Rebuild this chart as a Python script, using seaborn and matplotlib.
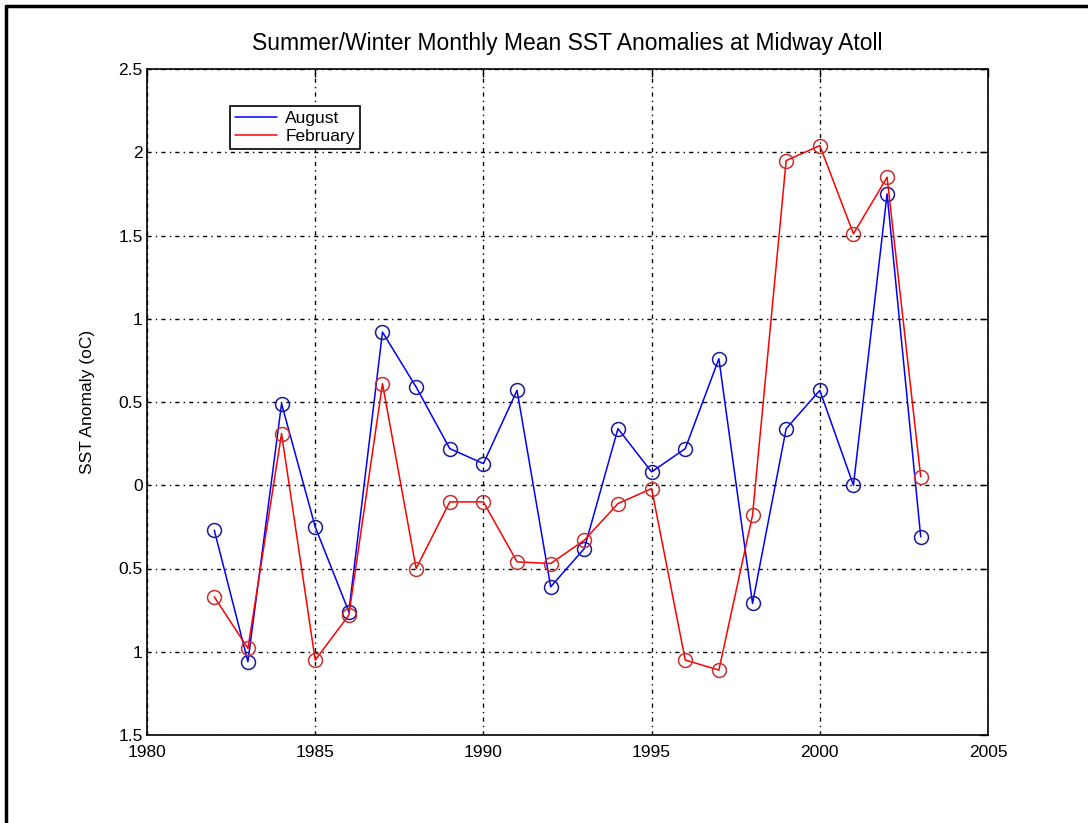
import matplotlib
matplotlib.use("Agg")
import matplotlib.pyplot as plt
from matplotlib.lines import Line2D
from matplotlib.ticker import FuncFormatter, MultipleLocator
import numpy as np
import pandas as pd
import seaborn as sns

# Monthly mean SST anomalies (degrees C), 1982-2003
years = list(range(1982, 2004))
august = [-0.27, -1.06, 0.49, -0.25, -0.76, 0.92, 0.59, 0.22, 0.13, 0.57, -0.61,
          -0.38, 0.34, 0.08, 0.22, 0.76, -0.71, 0.34, 0.57, 0.00, 1.75, -0.31]
february = [-0.67, -0.98, 0.31, -1.05, -0.78, 0.61, -0.50, -0.10, -0.10, -0.46, -0.47,
            -0.33, -0.11, -0.02, -1.05, -1.11, -0.18, 1.95, 2.04, 1.51, 1.85, 0.05]
series_names = ["August", "February"]
series_colors = {"August": "#0000ff", "February": "#ff0000"}
marker_colors = {"August": "#1a1a9a", "February": "#c83030"}

title = "Summer/Winter Monthly Mean SST Anomalies at Midway Atoll"
ylabel = "SST Anomaly (oC)"
xticks = [1980, 1985, 1990, 1995, 2000, 2005]

df = pd.DataFrame({
    "year": years * 2,
    "anomaly": august + february,
    "month": ["August"] * len(years) + ["February"] * len(years),
})

sns.set_style("white")
fam = ["Liberation Sans", "DejaVu Sans"]
plt.rcParams["font.family"] = fam
plt.rcParams["text.color"] = "black"
plt.rcParams["axes.labelcolor"] = "black"

fig = plt.figure(figsize=(10.88, 8.23), dpi=100)
ax = fig.add_axes([147 / 1088, 88 / 823, 841 / 1088, 666 / 823])

sns.lineplot(data=df, x="year", y="anomaly", hue="month", hue_order=series_names,
             palette=series_colors, marker="o", markersize=10, linewidth=1.1,
             markerfacecolor="none", markeredgewidth=1.1, legend=False, ax=ax)
for line, name in zip(ax.get_lines(), series_names):
    line.set_markeredgecolor(marker_colors[name])
    line.set_markerfacecolor("none")

ax.set_xlim(1980, 2005)
ax.set_ylim(-1.5, 2.5)
ax.set_xticks(xticks)
ax.yaxis.set_major_locator(MultipleLocator(0.5))
ax.yaxis.set_major_formatter(FuncFormatter(lambda v, p: f"{abs(v):g}"))

ax.grid(True, color="black", linestyle=(0, (3, 3, 1, 3)), linewidth=1.0)
ax.tick_params(direction="in", length=6, width=1, top=True, right=True,
               labelsize=12.5, colors="black")
ax.tick_params(axis="x", pad=7)
ax.tick_params(axis="y", pad=3)
for s in ax.spines.values():
    s.set_color("black")
    s.set_linewidth(1.2)

ax.set_xlabel("")
ax.set_ylabel(ylabel, fontsize=12.5, labelpad=17, color="black")
ax.set_title(title, fontsize=16.5, pad=14, color="black")

handles = [Line2D([0], [0], color=series_colors[n], linewidth=1.1) for n in series_names]
leg = ax.legend(handles, series_names, loc="upper left", bbox_to_anchor=(0.088, 0.958),
                fontsize=12.5, frameon=True, fancybox=False, edgecolor="black",
                framealpha=1, handlelength=2.4, borderpad=0.3, labelspacing=0.15,
                handletextpad=0.5)
leg.get_frame().set_linewidth(1.2)

# outer frame lines on the left and top edges
fig.add_artist(Line2D([6 / 1088, 6 / 1088], [0, 1 - 6 / 823], color="black", linewidth=2.5,
                      transform=fig.transFigure))
fig.add_artist(Line2D([6 / 1088, 1], [1 - 6 / 823, 1 - 6 / 823], color="black", linewidth=2.5,
                      transform=fig.transFigure))

fig.savefig("out.png", dpi=100)
